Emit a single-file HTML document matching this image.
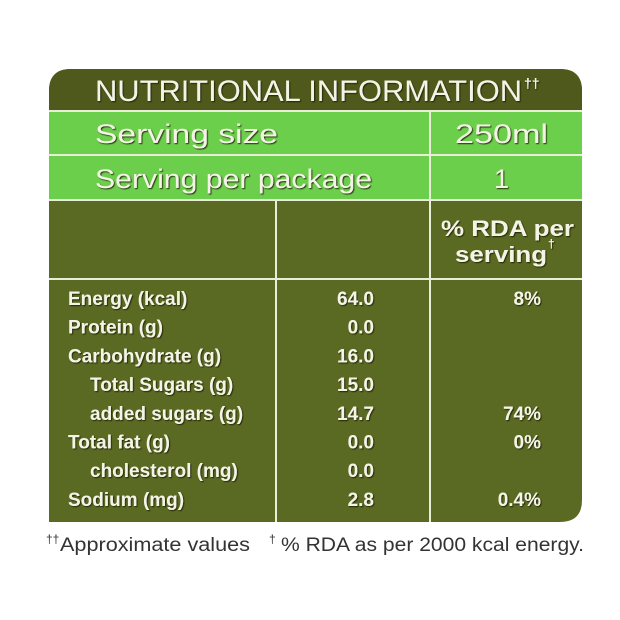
<!DOCTYPE html>
<html><head><meta charset="utf-8"><style>
html,body{margin:0;padding:0;background:#fff;}
svg{display:block;}
text{font-family:"Liberation Sans",sans-serif;}
.w{fill:#f4f4e6;font-weight:bold;filter:url(#sh);}
</style></head><body>
<svg width="620" height="620" viewBox="0 0 620 620">
<defs>
<filter id="sh" x="-5%" y="-20%" width="110%" height="140%"><feDropShadow dx="1" dy="1" stdDeviation="0.6" flood-color="#1a1f05" flood-opacity="0.9"/></filter>
<clipPath id="box"><path d="M71,69 H560 Q582,69 582,91 V500 Q582,522 560,522 H49 V91 Q49,69 71,69 Z"/></clipPath>
</defs>
<g clip-path="url(#box)">
<rect x="40" y="60" width="550" height="470" fill="#5a6a22"/>
<rect x="40" y="60" width="550" height="50" fill="#4e591b"/>
<rect x="40" y="111" width="550" height="88" fill="#6ccf4c"/>
</g>
<g stroke="#e8eed8" stroke-width="2">
<line x1="49" y1="111" x2="582" y2="111"/>
<line x1="49" y1="155" x2="582" y2="155"/>
<line x1="49" y1="200" x2="582" y2="200"/>
<line x1="49" y1="279" x2="582" y2="279"/>
<line x1="430" y1="111" x2="430" y2="200"/>
<line x1="276" y1="200" x2="276" y2="522"/>
<line x1="430" y1="200" x2="430" y2="522"/>
</g>
<text class="w" x="95" y="101" font-size="30" textLength="427" lengthAdjust="spacingAndGlyphs" style="font-weight:normal">NUTRITIONAL INFORMATION</text>
<text class="w" x="524" y="88" font-size="14">††</text>
<text class="w" x="95" y="143" font-size="27" style="font-weight:normal" textLength="183" lengthAdjust="spacingAndGlyphs">Serving size</text>
<text class="w" x="455" y="143" font-size="27" style="font-weight:normal" textLength="93" lengthAdjust="spacingAndGlyphs">250ml</text>
<text class="w" x="95" y="188" font-size="27" style="font-weight:normal" textLength="277" lengthAdjust="spacingAndGlyphs">Serving per package</text>
<text class="w" x="494" y="188" font-size="27" style="font-weight:normal">1</text>
<text class="w" x="441" y="236" font-size="22" textLength="133" lengthAdjust="spacingAndGlyphs">% RDA per</text>
<text class="w" x="455" y="262" font-size="22" textLength="92" lengthAdjust="spacingAndGlyphs">serving</text>
<text class="w" x="548" y="248" font-size="12">†</text>
<g id="rows"></g>
<text x="46" y="543" font-size="12" fill="#333">††</text>
<text x="60" y="551" font-size="19" fill="#333" textLength="190" lengthAdjust="spacingAndGlyphs">Approximate values</text>
<text x="269" y="543" font-size="12" fill="#333">†</text>
<text x="281" y="551" font-size="19" fill="#333" textLength="303" lengthAdjust="spacingAndGlyphs">% RDA as per 2000 kcal energy.</text>
</svg>
<script>
const labels=["Energy (kcal)","Protein (g)","Carbohydrate (g)","Total Sugars (g)","added sugars (g)","Total fat (g)","cholesterol (mg)","Sodium (mg)"];
const indents=[0,0,0,1,1,0,1,0];
const amounts=["64.0","0.0","16.0","15.0","14.7","0.0","0.0","2.8"];
const rda=["8%","","","","74%","0%","","0.4%"];
const g=document.getElementById('rows');
const NS="http://www.w3.org/2000/svg";
function mk(x,y,t,anchor){const e=document.createElementNS(NS,'text');e.setAttribute('x',x);e.setAttribute('y',y);e.setAttribute('class','w');e.setAttribute('font-size','19');if(anchor)e.setAttribute('text-anchor',anchor);e.textContent=t;g.appendChild(e);return e;}
labels.forEach((l,i)=>{const y=305+i*28.7;
const a=mk(indents[i]?90:68,y,l);


const b=mk(374,y,amounts[i],'end');


if(rda[i]){const c=mk(541,y,rda[i],'end');

}
});
</script>
</body></html>
